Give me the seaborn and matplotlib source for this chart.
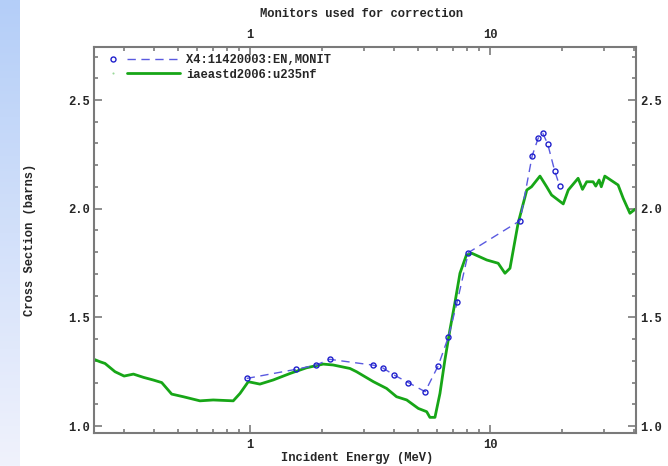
import numpy as np
import pandas as pd
import matplotlib
matplotlib.use("Agg")
import matplotlib.pyplot as plt
import seaborn as sns
from matplotlib.lines import Line2D
from matplotlib.legend_handler import HandlerBase
from matplotlib.ticker import LogLocator, NullFormatter, FixedLocator, FixedFormatter, MultipleLocator

# ---- data ----
std_energy = [0.224, 0.237, 0.249, 0.274, 0.299, 0.327, 0.36, 0.395, 0.429, 0.472, 0.527,
              0.619, 0.703, 0.852, 0.909, 0.984, 1.10, 1.25, 1.47, 1.72, 2.02, 2.22, 2.61,
              2.78, 3.27, 3.71, 4.08, 4.50, 5.03, 5.45, 5.62, 5.90, 6.19, 6.49, 6.81, 7.14,
              7.50, 7.98, 8.40, 9.70, 10.82, 11.55, 12.12, 13.1, 14.24, 14.9, 16.16, 17.23,
              18.06, 20.2, 21.2, 23.3, 24.3, 25.3, 26.9, 27.6, 28.5, 29.1, 30.1, 34.2, 35.9,
              38.3, 40.2]
std_xs = [1.307, 1.296, 1.288, 1.25, 1.23, 1.239, 1.224, 1.212, 1.2, 1.147, 1.135,
          1.116, 1.12, 1.116, 1.15, 1.204, 1.193, 1.212, 1.242, 1.268, 1.285, 1.281, 1.265,
          1.25, 1.204, 1.173, 1.135, 1.12, 1.081, 1.066, 1.04, 1.04, 1.15, 1.304, 1.442, 1.565,
          1.703, 1.787, 1.795, 1.764, 1.749, 1.703, 1.726, 1.933, 2.086, 2.101, 2.15, 2.101,
          2.063, 2.022, 2.086, 2.14, 2.089, 2.124, 2.124, 2.104, 2.132, 2.101, 2.15, 2.109, 2.048,
          1.979, 1.997]

mon_energy = [0.969, 1.555, 1.88, 2.15, 3.27, 3.57, 3.98, 4.57, 5.37, 6.09, 6.71, 7.3,
              8.13, 13.34, 15.0, 15.88, 16.6, 17.4, 18.6, 19.5]
mon_xs = [1.219, 1.261, 1.28, 1.307, 1.28, 1.268, 1.235, 1.2, 1.158, 1.278, 1.41, 1.57,
          1.798, 1.945, 2.244, 2.324, 2.347, 2.298, 2.175, 2.106]

series_labels = ["X4:11420003:EN,MONIT", "iaeastd2006:u235nf"]
title_text = "Monitors used for correction"
xlabel_text = "Incident Energy (MeV)"
ylabel_text = "Cross Section (barns)"

FONT = ["Liberation Mono", "DejaVu Sans Mono"]
FS = 8.7

sns.set_style("white")
plt.rcParams["font.family"] = FONT
plt.rcParams["font.weight"] = "bold"

W, H = 668, 466
fig = plt.figure(figsize=(W / 100, H / 100), dpi=100)

# left gradient strip
gax = fig.add_axes([0, 0, 20 / W, 1])
grad = np.linspace(0, 1, 256).reshape(-1, 1)
top_c = np.array([180, 206, 248]) / 255
bot_c = np.array([240, 242, 252]) / 255
img = top_c[None, None, :] * (1 - grad[:, :, None]) + bot_c[None, None, :] * grad[:, :, None]
gax.imshow(img, aspect="auto", extent=[0, 1, 0, 1])
gax.set_axis_off()

L, R, B, T = 94, 636, 433, 47
ax = fig.add_axes([L / W, 1 - B / H, (R - L) / W, (B - T) / H])

df_std = pd.DataFrame({"E": std_energy, "xs": std_xs})
df_mon = pd.DataFrame({"E": mon_energy, "xs": mon_xs})

sns.lineplot(data=df_std, x="E", y="xs", ax=ax, sort=False, color="#17a617",
             linewidth=2.0, zorder=2, label=series_labels[1])
sns.lineplot(data=df_mon, x="E", y="xs", ax=ax, sort=False, color="#5a5ae0",
             linewidth=1.0, dashes=(6, 4), marker="o", markersize=3.6,
             markerfacecolor="none", markeredgecolor="#2020cc", markeredgewidth=1.0,
             zorder=3, label=series_labels[0])

ax.set_xscale("log")
ax.set_xlim(0.224, 40.6)
ax.set_ylim(0.968, 2.744)
ax.set_xlabel("")
ax.set_ylabel("")

spine_c = "#7a7a7a"
for s in ax.spines.values():
    s.set_color(spine_c)
    s.set_linewidth(1.5)

ax.xaxis.set_major_locator(FixedLocator([1, 10]))
ax.xaxis.set_major_formatter(FixedFormatter(["1", "10"]))
ax.xaxis.set_minor_locator(LogLocator(base=10, subs=np.arange(2, 10)))
ax.xaxis.set_minor_formatter(NullFormatter())
ax.yaxis.set_major_locator(MultipleLocator(0.5))
ax.yaxis.set_minor_locator(MultipleLocator(0.1))
ax.yaxis.set_major_formatter(matplotlib.ticker.FormatStrFormatter("%.1f"))

ax.tick_params(which="both", direction="in", top=True, right=True, bottom=True, left=True,
               labeltop=True, labelright=True, color=spine_c, width=1.2)
ax.tick_params(which="major", length=5.5)
ax.tick_params(which="minor", length=3)
ax.tick_params(axis="x", which="major", pad=4, labelsize=FS)
ax.tick_params(axis="y", which="major", pad=3, labelsize=FS)
for lab in ax.get_xticklabels() + ax.get_yticklabels():
    lab.set_fontweight("bold")

# legend with marker drawn left of the line
class MarkerLeft(HandlerBase):
    def create_artists(self, legend, orig_handle, xdescent, ydescent, width, height,
                       fontsize, trans):
        yc = height / 2 - ydescent
        x0 = -xdescent
        has_mk = orig_handle.get_marker() not in (None, "None", "")
        mk = Line2D([x0 + 0.07 * width], [yc], linestyle="none",
                    marker=orig_handle.get_marker() if has_mk else ".",
                    markersize=orig_handle.get_markersize() if has_mk else 1.5,
                    markerfacecolor=orig_handle.get_markerfacecolor() if has_mk else "#9ad89a",
                    markeredgecolor=orig_handle.get_markeredgecolor() if has_mk else "#9ad89a",
                    markeredgewidth=orig_handle.get_markeredgewidth())
        ln = Line2D([x0 + 0.27 * width, x0 + width], [yc, yc],
                    color=orig_handle.get_color(), linewidth=orig_handle.get_linewidth(),
                    linestyle=orig_handle.get_linestyle())
        if orig_handle.get_linestyle() not in ("-", "solid"):
            ln.set_dashes((6, 4))
        mk.set_transform(trans)
        ln.set_transform(trans)
        return [mk, ln]

lines = ax.get_lines()
h_std, h_mon = lines[0], lines[1]
leg = ax.legend([h_mon, h_std], series_labels, loc="upper left", frameon=False,
                handler_map={h_mon: MarkerLeft(), h_std: MarkerLeft()},
                handlelength=6.0, handletextpad=0.5, labelspacing=0.2,
                bbox_to_anchor=(0.012, 1.0), borderaxespad=0.3, borderpad=0.3,
                prop={"family": FONT, "weight": "bold", "size": FS})

fig.text(362 / W, 1 - 14 / H, title_text, ha="center", va="center", fontsize=FS,
         fontweight="bold", family=FONT)
fig.text(357 / W, 1 - 458 / H, xlabel_text, ha="center", va="center", fontsize=FS,
         fontweight="bold", family=FONT)
fig.text(30 / W, 1 - 240 / H, ylabel_text, ha="center", va="center", rotation=90,
         fontsize=FS, fontweight="bold", family=FONT)

fig.savefig("out.png", dpi=100)
